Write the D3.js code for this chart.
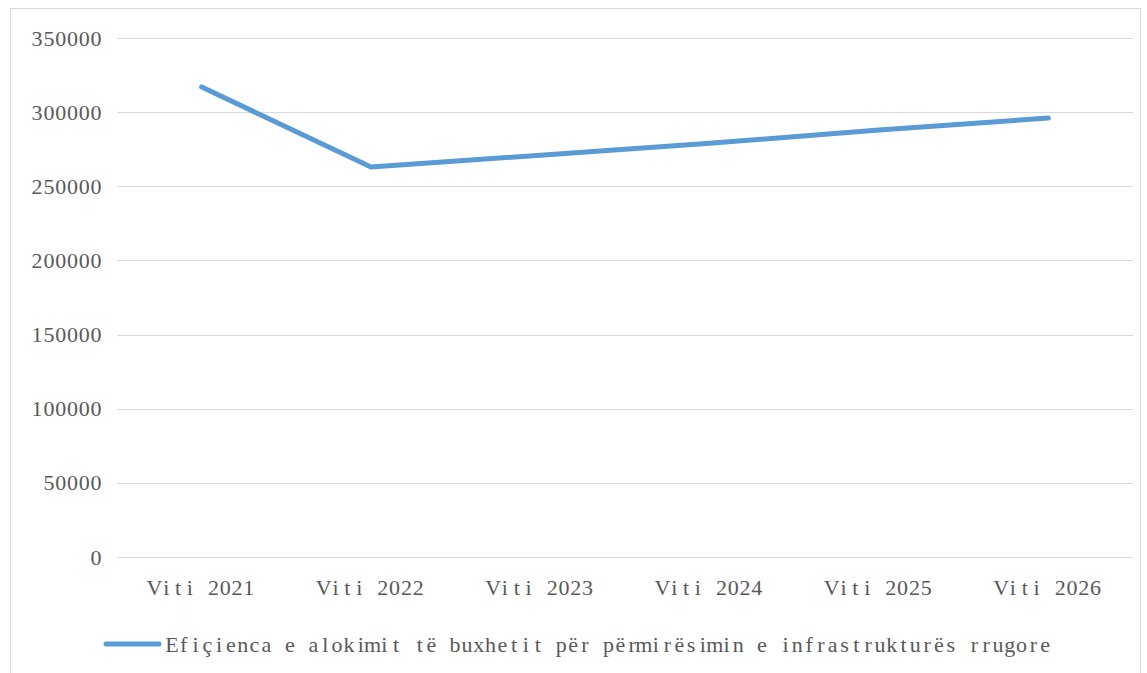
<!DOCTYPE html>
<html><head><meta charset="utf-8">
<script src="https://cdn.jsdelivr.net/npm/d3@7"></script>
<style>body{margin:0;background:#fff}svg{display:block}</style>
</head><body>
<svg id="c" width="1147" height="673"></svg>
<script>
const categories = ["Viti 2021","Viti 2022","Viti 2023","Viti 2024","Viti 2025","Viti 2026"];
const values = [317000, 263000, 271000, 279000, 288000, 296000];
const yTicks = [0,50000,100000,150000,200000,250000,300000,350000];
const seriesName = "Efiçienca e alokimit të buxhetit për përmirësimin e infrastrukturës rrugore";

const svg = d3.select("#c");
const m = {left:117, right:1133, top:38, bottom:557};
const charW = 11.8;
const font = "'Liberation Serif', 'DejaVu Serif', serif";
const textColor = "#595959";

svg.append("rect").attr("x",10.5).attr("y",8.5).attr("width",1130).attr("height",680)
  .attr("fill","#fff").attr("stroke","#d9d9d9");

const x = d3.scaleBand().domain(categories).range([m.left, m.right]);
const y = d3.scaleLinear().domain([0,350000]).range([m.bottom, m.top]);

svg.append("g").selectAll("line").data(yTicks).join("line")
  .attr("x1",m.left).attr("x2",m.right)
  .attr("y1",d=>Math.round(y(d))+0.5).attr("y2",d=>Math.round(y(d))+0.5)
  .attr("stroke","#d9d9d9").attr("stroke-width",1);

// monospaced-like text: each character centred in its own cell of width charW
function monoText(g, str, xStart, yy){
  const chars = Array.from(str);
  const xs = chars.map((c,i)=> (xStart + i*charW + charW/2).toFixed(2)).join(" ");
  return g.append("text").attr("x",xs).attr("y",yy)
    .attr("text-anchor","middle").attr("dominant-baseline","central")
    .attr("font-family",font).attr("font-size",22).attr("fill",textColor)
    .text(str);
}

const ya = svg.append("g");
yTicks.forEach(d=> {
  const s = String(d);
  monoText(ya, s, 102 - s.length*charW, y(d));
});

const xa = svg.append("g");
categories.forEach(c=> {
  const cx = x(c)+x.bandwidth()/2;
  monoText(xa, c, cx - c.length*charW/2, 587);
});

const line = d3.line().x((d,i)=>x(categories[i])+x.bandwidth()/2).y(d=>y(d));
svg.append("path").datum(values).attr("d",line)
  .attr("fill","none").attr("stroke","#5b9bd5").attr("stroke-width",5)
  .attr("stroke-linejoin","round").attr("stroke-linecap","round");

const lg = svg.append("g");
lg.append("line").attr("x1",106).attr("x2",159).attr("y1",644).attr("y2",644)
  .attr("stroke","#5b9bd5").attr("stroke-width",5).attr("stroke-linecap","round");
monoText(lg, seriesName, 166, 644);
</script>
</body></html>
